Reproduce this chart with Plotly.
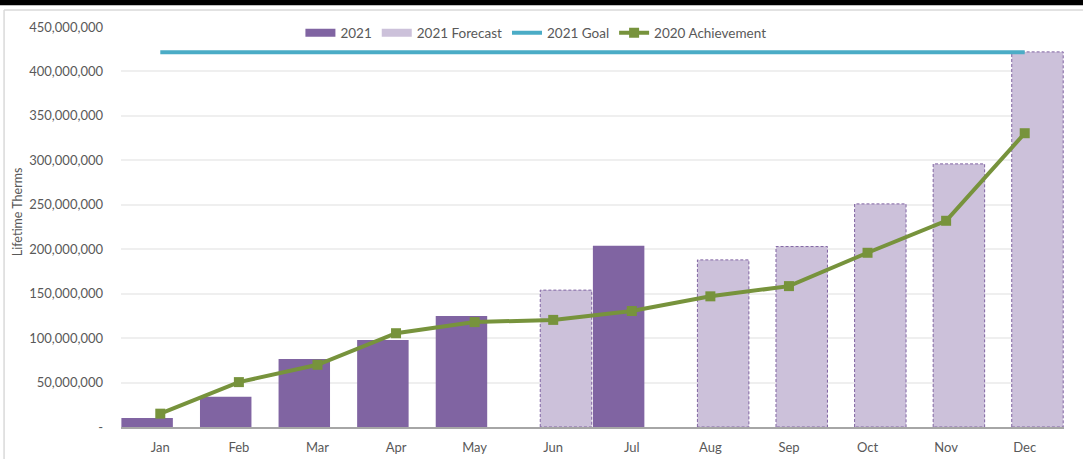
import plotly.graph_objects as go

months = ["Jan", "Feb", "Mar", "Apr", "May", "Jun", "Jul", "Aug", "Sep", "Oct", "Nov", "Dec"]
actual_2021 = [10_000_000, 34_000_000, 76_500_000, 98_000_000, 125_000_000, None,
               204_000_000, None, None, None, None, None]
forecast_2021 = [None, None, None, None, None, 154_000_000,
                 None, 188_000_000, 203_000_000, 251_000_000, 296_000_000, 422_000_000]
goal_2021 = 421_500_000
achievement_2020 = [15_000_000, 50_500_000, 70_000_000, 105_500_000, 118_000_000, 120_500_000,
                    130_500_000, 147_000_000, 158_500_000, 196_000_000, 232_000_000, 330_500_000]
y_ticks = [0, 50_000_000, 100_000_000, 150_000_000, 200_000_000, 250_000_000,
           300_000_000, 350_000_000, 400_000_000, 450_000_000]
y_ticktext = ["-", "50,000,000", "100,000,000", "150,000,000", "200,000,000", "250,000,000",
              "300,000,000", "350,000,000", "400,000,000", "450,000,000"]

PURPLE = "#8064A2"
LILAC = "#CCC1DA"
TEAL = "#4BACC6"
OLIVE = "#77933C"
TXT = "#595959"
FONT = "Lato"

xi = list(range(len(months)))
BW = 0.655
OFF_A = -0.495
OFF_F = -0.165

fig = go.Figure()
fig.add_trace(go.Bar(x=xi, y=actual_2021, name="2021", marker=dict(color=PURPLE, line=dict(width=0)),
                     width=BW, offset=OFF_A, showlegend=False))
fig.add_trace(go.Bar(x=xi, y=forecast_2021, name="2021 Forecast",
                     marker=dict(color=LILAC, line=dict(width=0)), width=BW, offset=OFF_F,
                     showlegend=False))

# dashed outline for forecast bars, derived from data
ox, oy = [], []
for i, v in zip(xi, forecast_2021):
    if v is None:
        continue
    x0, x1 = i + OFF_F, i + OFF_F + BW
    ox += [x0, x0, x1, x1, x0, None]
    oy += [0, v, v, 0, 0, None]
fig.add_trace(go.Scatter(x=ox, y=oy, mode="lines", line=dict(color=PURPLE, width=1, dash="3px,2px"),
                         showlegend=False, hoverinfo="skip"))

# legend-only entries with wide rectangular swatches for the bar series
fig.add_trace(go.Scatter(x=[None], y=[None], mode="lines", name="2021",
                         line=dict(color=PURPLE, width=8)))
fig.add_trace(go.Scatter(x=[None], y=[None], mode="lines", name="2021 Forecast",
                         line=dict(color=LILAC, width=8)))

fig.add_trace(go.Scatter(x=[xi[0], xi[-1]], y=[goal_2021, goal_2021], name="2021 Goal", mode="lines",
                         line=dict(color=TEAL, width=4)))
fig.add_trace(go.Scatter(x=xi, y=achievement_2020, name="2020 Achievement", mode="lines+markers",
                         line=dict(color=OLIVE, width=4),
                         marker=dict(symbol="square", size=10, color=OLIVE)))

fig.update_layout(
    width=1083, height=459,
    margin=dict(l=121, r=19, t=27, b=32, autoexpand=False),
    barmode="overlay",
    plot_bgcolor="white", paper_bgcolor="white",
    font=dict(family=FONT, color=TXT, size=12),
    legend=dict(orientation="h", x=0.44, xanchor="center", y=0.985, yanchor="middle",
                bgcolor="white", font=dict(size=13.5, color=TXT), itemwidth=30,
                traceorder="normal", tracegroupgap=0),
    showlegend=True,
)
fig.update_xaxes(
    range=[-0.5, 11.5], tickvals=xi, ticktext=months, showgrid=False, automargin=False,
    showline=True, linecolor="#a6a6a6", linewidth=1.5, ticks="", ticklabelstandoff=8,
    tickfont=dict(size=13, color=TXT), zeroline=False,
)
fig.update_yaxes(
    range=[0, 450_000_000], tickvals=y_ticks, ticktext=y_ticktext, showgrid=True, automargin=False,
    gridcolor="#efefef", gridwidth=1.5, zeroline=False, showline=False, ticks="",
    ticklabelstandoff=17, tickfont=dict(size=13, color=TXT),
)
fig.add_annotation(text="Lifetime Therms", textangle=-90, xref="paper", yref="paper",
                   x=-0.110, y=0.5375, xanchor="center", yanchor="middle", showarrow=False,
                   font=dict(size=12.5, color=TXT))
fig.update_layout(shapes=[
    dict(type="rect", xref="paper", yref="paper", x0=-0.14, x1=1.03, y0=1.0545, y1=1.0675,
         fillcolor="black", line=dict(width=0), layer="above"),
    dict(type="line", xref="paper", yref="paper", x0=-0.124, x1=1.03, y0=1.0425, y1=1.0425,
         line=dict(color="#d9d9d9", width=1.5)),
    dict(type="line", xref="paper", yref="paper", x0=-0.124, x1=-0.124, y0=-0.09, y1=1.0425,
         line=dict(color="#d9d9d9", width=1.5)),
])
fig.write_html("out.html", config={"displayModeBar": False},
               post_script="document.body.style.margin='0';")
